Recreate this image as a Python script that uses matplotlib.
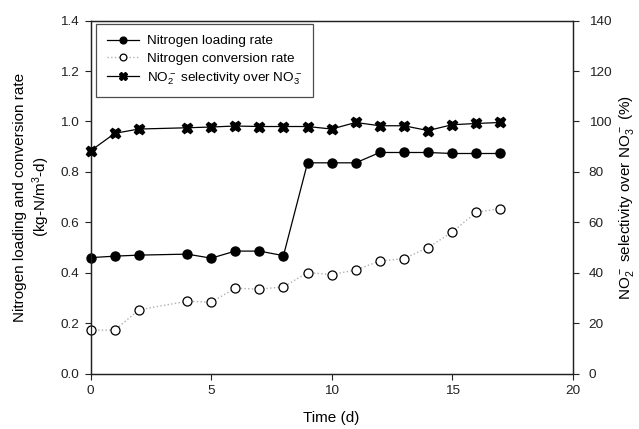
import matplotlib
matplotlib.use("Agg")
import matplotlib.pyplot as plt

plt.rcParams["font.family"] = ["Liberation Sans", "DejaVu Sans"]
plt.rcParams["mathtext.default"] = "regular"

days = [0, 1, 2, 4, 5, 6, 7, 8, 9, 10, 11, 12, 13, 14, 15, 16, 17]
loading_rate = [0.460, 0.466, 0.470, 0.474, 0.458, 0.486, 0.486, 0.468, 0.836,
                0.836, 0.836, 0.877, 0.877, 0.877, 0.873, 0.873, 0.873]
conversion_rate = [0.172, 0.173, 0.253, 0.287, 0.283, 0.339, 0.335, 0.344, 0.401,
                   0.393, 0.411, 0.447, 0.456, 0.500, 0.561, 0.640, 0.654]
selectivity = [88.4, 95.3, 97.0, 97.5, 97.8, 98.2, 98.0, 98.0, 98.0,
               97.0, 99.6, 98.3, 98.3, 96.4, 98.7, 99.2, 99.6]

fig = plt.figure(figsize=(6.39, 4.29), dpi=100)
ax = fig.add_axes([0.142, 0.129, 0.754, 0.823])
ax2 = ax.twinx()

l1, = ax.plot(days, loading_rate, "-", color="black", lw=0.9, marker="o",
              ms=6.5, mfc="black", mec="black", label="Nitrogen loading rate",
              clip_on=False, zorder=3)
l2, = ax.plot(days, conversion_rate, ":", color="#b0b0b0", lw=1.0, marker="o",
              ms=6.5, mfc="white", mec="black", mew=0.9,
              label="Nitrogen conversion rate", clip_on=False, zorder=3)
l3, = ax2.plot(days, selectivity, "-", color="black", lw=0.9, marker="X",
               ms=7.5, mfc="black", mec="black",
               label="NO$_2^-$ selectivity over NO$_3^-$", clip_on=False, zorder=3)

ax.set_xlim(0, 20)
ax.set_ylim(0, 1.4)
ax2.set_ylim(0, 140)
ax.set_xticks([0, 5, 10, 15, 20])
ax.set_yticks([0.0, 0.2, 0.4, 0.6, 0.8, 1.0, 1.2, 1.4])
ax.set_yticklabels([f"{v:.1f}" for v in ax.get_yticks()])
ax2.set_yticks(range(0, 141, 20))

for a in (ax, ax2):
    a.tick_params(direction="out", length=4.5, width=0.8, labelsize=9.7,
                  colors="#222222", pad=4)
    for s in a.spines.values():
        s.set_linewidth(0.9)
        s.set_color("#222222")
ax2.tick_params(pad=7)

ax.set_xlabel("Time (d)", fontsize=11, labelpad=10)
ax.set_ylabel("Nitrogen loading and conversion rate\n(kg-N/m$^3$-d)",
              fontsize=11, labelpad=6)
ax2.set_ylabel("NO$_2^-$ selectivity over NO$_3^-$ (%)", fontsize=11,
               labelpad=4, rotation=90)

leg = ax2.legend(handles=[l1, l2, l3], loc="upper left",
                 bbox_to_anchor=(0.011, 0.990), fontsize=9.7, frameon=True,
                 fancybox=False, edgecolor="#222222", markerscale=0.75,
                 handlelength=2.4, borderpad=0.8, labelspacing=0.38,
                 handletextpad=0.6, borderaxespad=0)
leg.get_frame().set_linewidth(0.9)

fig.savefig("out.png", dpi=100)
